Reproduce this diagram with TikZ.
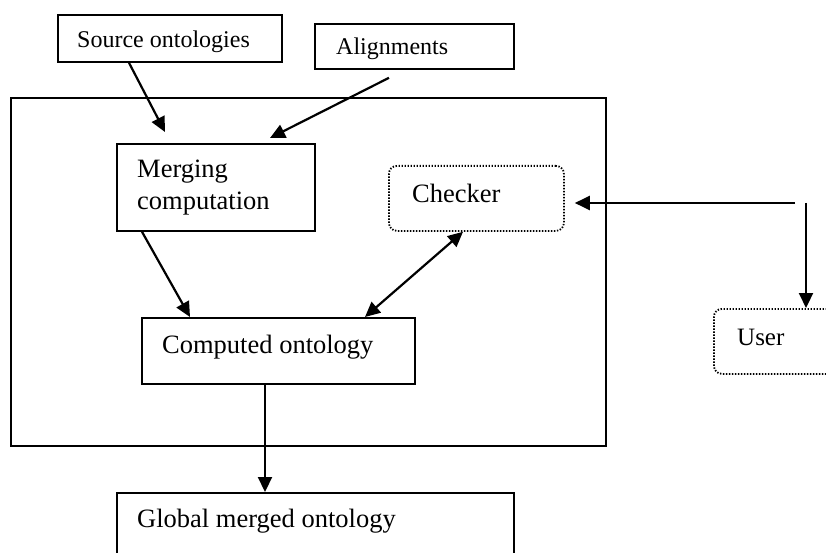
\documentclass[tikz,border=0pt]{standalone}
\usepackage{fontspec}
\setmainfont{Liberation Serif}
\usetikzlibrary{arrows.meta,calc}
\begin{document}
\begin{tikzpicture}[x=1pt,y=-1pt,
  box/.style={draw, line width=1.8pt, inner sep=0pt, anchor=north west},
  dotbox/.style={draw, line width=1.8pt, dash pattern=on 1.4pt off 1.6pt,
    rounded corners=8pt, inner sep=0pt, anchor=north west},
  lbl/.style={anchor=base west, inner sep=0pt, font=\fontsize{26.5}{32}\selectfont},
  small/.style={font=\fontsize{24}{32}\selectfont},
  tip/.tip={Triangle[length=15pt,width=14pt]},
  arr/.style={line width=2.2pt, -tip},
  darr/.style={line width=2.2pt, tip-tip}]
\useasboundingbox (0,0) rectangle (826,553);
\clip (0,0) rectangle (826,553);

% outer frame of the merging process
\node[box, minimum width=595pt, minimum height=348pt] (frame) at (10,97) {};

% boxes
\node[box, minimum width=224pt, minimum height=47pt] (src) at (57,14) {};
\node[box, minimum width=199pt, minimum height=45pt] (ali) at (314,23) {};
\node[box, minimum width=198pt, minimum height=87pt] (merge) at (116,143) {};
\node[dotbox, minimum width=175pt, minimum height=65pt] (check) at (388,165) {};
\node[box, minimum width=273pt, minimum height=66pt] (comp) at (141,317) {};
\node[dotbox, minimum width=130pt, minimum height=65pt] (user) at (713,308) {};
\node[box, minimum width=397pt, minimum height=90pt] (glob) at (116,492) {};

% labels
\node[lbl, small] (srcT) at (77,48) {Source ontologies};
\node[lbl, small] (aliT) at (336,55) {Alignments};
\node[lbl] (mergeT1) at (137,178) {Merging};
\node[lbl] (mergeT2) at (137,210) {computation};
\node[lbl] (checkT) at (412,203) {Checker};
\node[lbl] (compT) at (162,353) {Computed ontology};
\node[lbl, font=\fontsize{25}{32}\selectfont] (userT) at (737,345) {User};
\node[lbl] (globT) at (137,527) {Global merged ontology};

% connectors
\draw[arr] ($(src.south west)+(72,0)$) -- ($(merge.north west)+(49,-11)$);
\draw[arr] ($(ali.south west)+(75,8)$) -- ($(merge.north west)+(154,-5)$);
\draw[arr] ($(merge.south west)+(26,0)$) -- ($(comp.north west)+(49,0)$);
\draw[darr] ($(check.south west)+(75,0)$) -- ($(comp.north west)+(224,0)$);
\draw[arr] ($(comp.south west)+(124,0)$) -- ($(glob.north west)+(149,0)$);

% feedback from the user side
\coordinate (hstart) at (795,203);
\coordinate (vstart) at (806,203);
\draw[arr] (hstart) -- ($(hstart -| check.east)+(10,0)$);
\draw[arr] (vstart) -- (vstart |- user.north);
\end{tikzpicture}
\end{document}
